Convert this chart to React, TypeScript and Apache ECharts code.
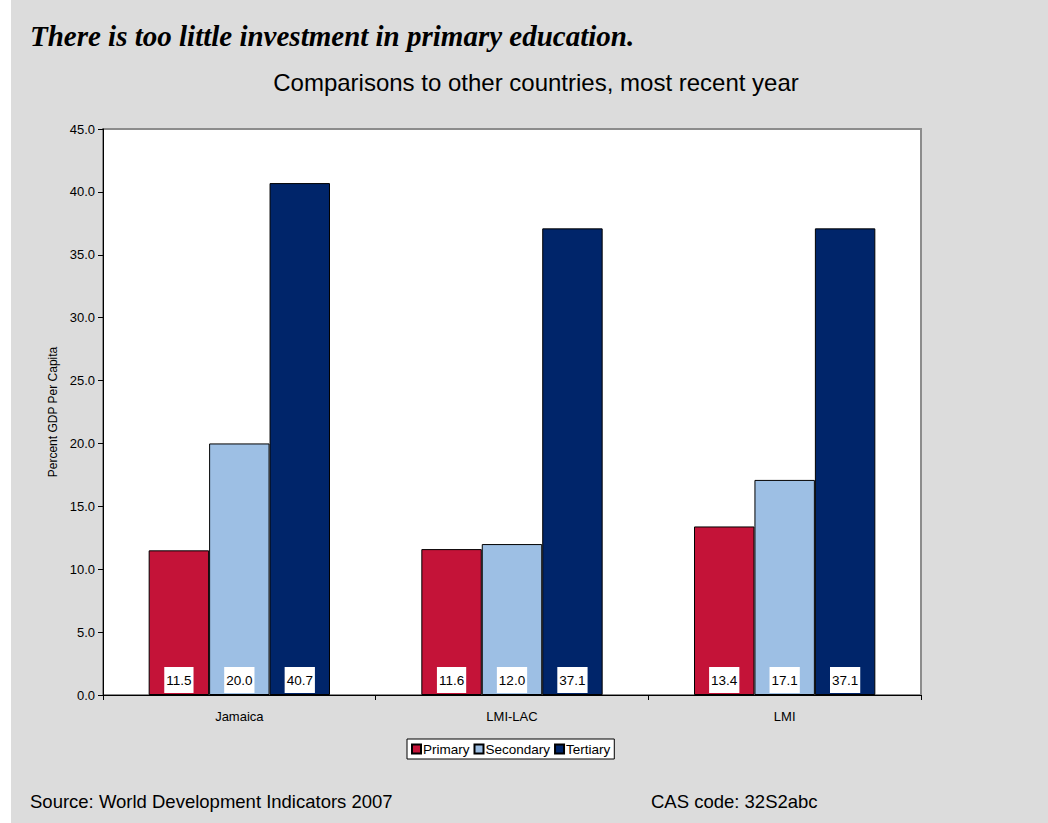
import React, { useEffect, useRef } from "react";
import * as echarts from "echarts";

const categories = ["Jamaica", "LMI-LAC", "LMI"];
const seriesNames = ["Primary", "Secondary", "Tertiary"];
const primary = [11.5, 11.6, 13.4];
const secondary = [20.0, 12.0, 17.1];
const tertiary = [40.7, 37.1, 37.1];
const seriesColors = ["#C41338", "#9DBFE4", "#00256A"];

const SANS = "Arial, 'Liberation Sans', sans-serif";

export default function App() {
  const ref = useRef<HTMLDivElement>(null);
  useEffect(() => {
    const chart = echarts.init(ref.current!, null, { renderer: "svg" });
    const values = [primary, secondary, tertiary];
    chart.setOption({
      animation: false,
      backgroundColor: "#ffffff",
      textStyle: { fontFamily: SANS },
      graphic: [
        { type: "rect", z: -10, shape: { x: 11, y: 0, width: 1037, height: 823 }, style: { fill: "#DCDCDC" } },
        {
          type: "text", x: 30, y: 36,
          style: {
            text: "There is too little investment in primary education.",
            font: "italic bold 29px 'Times New Roman', 'Liberation Serif', serif",
            fill: "#000", verticalAlign: "middle",
          },
        },
        {
          type: "text", x: 536, y: 82,
          style: {
            text: "Comparisons to other countries, most recent year",
            font: "24px " + SANS, fill: "#000", align: "center", verticalAlign: "middle",
          },
        },
        {
          type: "text", x: 30, y: 801,
          style: { text: "Source: World Development Indicators 2007", font: "18.5px " + SANS, fill: "#000", verticalAlign: "middle" },
        },
        {
          type: "text", x: 651, y: 801,
          style: { text: "CAS code: 32S2abc", font: "18.5px " + SANS, fill: "#000", verticalAlign: "middle" },
        },
      ],
      legend: {
        data: seriesNames,
        left: 407, top: 739,
        itemWidth: 9, itemHeight: 9, itemGap: 4,
        icon: "rect",
        backgroundColor: "#fff",
        borderColor: "#000", borderWidth: 1,
        padding: [3, 4, 3, 4],
        textStyle: { fontSize: 13.5, color: "#000", fontFamily: SANS, padding: [0, 0, 0, -3] },
      },
      grid: {
        left: 103, top: 129, right: 127, bottom: 128,
        show: true, backgroundColor: "#fff", borderColor: "#8C8C8C", borderWidth: 2,
      },
      xAxis: {
        type: "category",
        data: categories,
        axisLine: { lineStyle: { color: "#000", width: 1 } },
        axisTick: { show: true, alignWithLabel: false, length: 5, lineStyle: { color: "#000" } },
        axisLabel: { color: "#000", fontSize: 13, margin: 15, fontFamily: SANS },
      },
      yAxis: {
        type: "value",
        min: 0, max: 45, interval: 5,
        name: "Percent GDP Per Capita",
        nameLocation: "middle",
        nameGap: 44,
        nameTextStyle: { fontSize: 12, color: "#000", fontFamily: SANS },
        axisLine: { show: true, lineStyle: { color: "#000", width: 1 } },
        axisTick: { show: true, length: 5, lineStyle: { color: "#000" } },
        axisLabel: { color: "#000", fontSize: 13, margin: 8, formatter: (v: number) => v.toFixed(1), fontFamily: SANS },
        splitLine: { show: false },
      },
      series: seriesNames.map((name, i) => ({
        name,
        type: "bar",
        data: values[i],
        barGap: "0%",
        barCategoryGap: "33.5%",
        itemStyle: { color: seriesColors[i], borderColor: "#000", borderWidth: 1 },
        label: {
          show: true,
          position: "insideBottom",
          distance: 2,
          backgroundColor: "#fff",
          padding: [6, 2, 6, 2],
          color: "#000",
          fontSize: 13.5,
          fontFamily: SANS,
          formatter: (p: any) => Number(p.value).toFixed(1),
        },
      })),
    });
    return () => chart.dispose();
  }, []);
  return (
    <div
      ref={ref}
      style={{ position: "fixed", left: 0, top: 0, width: 1048, height: 823 }}
    />
  );
}
